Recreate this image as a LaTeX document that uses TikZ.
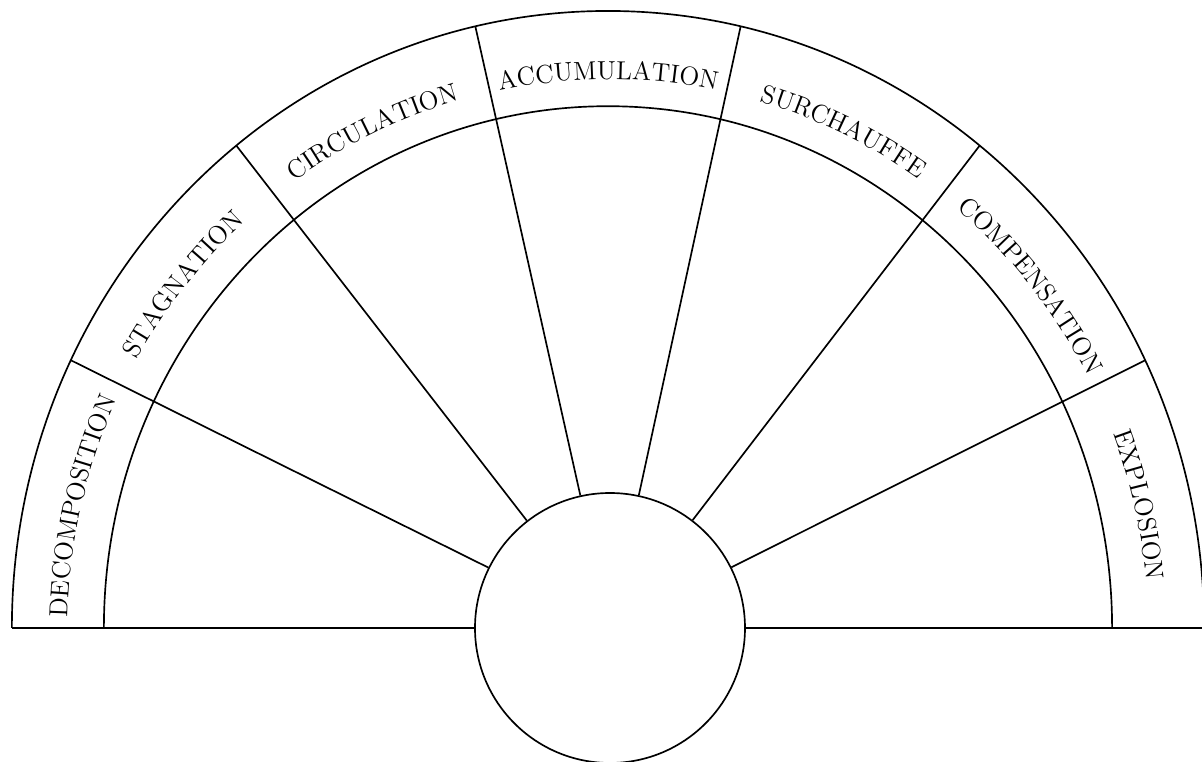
\documentclass[tikz,border=0pt]{standalone}
\usepackage{tikz}
\usetikzlibrary{decorations.text}

\begin{document}
\begin{tikzpicture}[
  x=0.02cm, y=0.0207cm,
  line width=0.95pt,
  hub/.style={circle, draw, minimum size=5.4cm, inner sep=0pt},
  band label/.style={decorate, decoration={text along path, text align=center,
                     text={|\fontsize{14.8}{18}\selectfont|#1}}},
]
\useasboundingbox (-12.16cm,-2.68cm) rectangle (11.88cm,12.56cm);

% Central circle
\node[hub] (hub) at (2,0) {};

% Outer and inner rims of the label band
\coordinate (rimW) at (180:596);
\coordinate (rimE) at (0:596);
\draw (rimW) arc[start angle=180, end angle=0, radius=596];
\draw (180:504) arc[start angle=180, end angle=0, radius=504];

% Base line on both sides of the circle
\draw (rimW) -- (hub.west);
\draw (hub.east) -- (rimE);

% Seven equal sectors
\foreach \k in {1,...,6} {
  \coordinate (div\k) at ({180-\k*180/7}:596);
  \draw (hub) -- (div\k);
}

% Labels running clockwise along the band
\path[band label=DECOMPOSITION] (180:540 and 530) arc[start angle=180, end angle=154.29, x radius=540, y radius=530];
\path[band label=STAGNATION] (154.29:540 and 530) arc[start angle=154.29, end angle=128.57, x radius=540, y radius=530];
\path[band label=CIRCULATION] (128.57:540 and 530) arc[start angle=128.57, end angle=102.86, x radius=540, y radius=530];
\path[band label=ACCUMULATION] (102.86:540 and 530) arc[start angle=102.86, end angle=77.14, x radius=540, y radius=530];
\path[band label=SURCHAUFFE] (77.14:540 and 530) arc[start angle=77.14, end angle=51.43, x radius=540, y radius=530];
\path[band label=COMPENSATION] (51.43:540 and 530) arc[start angle=51.43, end angle=25.71, x radius=540, y radius=530];
\path[band label=EXPLOSION] (25.71:540 and 530) arc[start angle=25.71, end angle=0, x radius=540, y radius=530];

\end{tikzpicture}
\end{document}
